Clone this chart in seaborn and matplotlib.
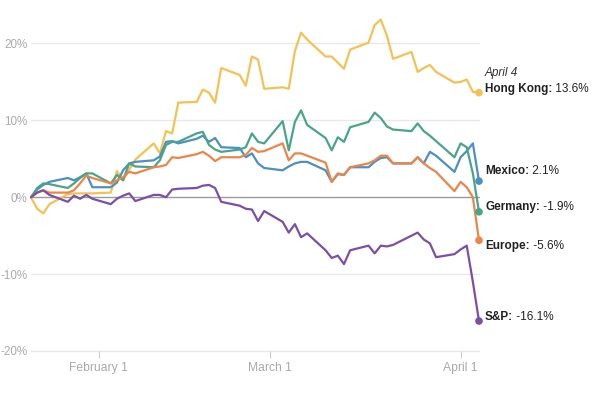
import matplotlib
matplotlib.use("Agg")
import matplotlib.pyplot as plt
import numpy as np
import pandas as pd
import seaborn as sns

sns.set_style("white")
plt.rcParams["font.family"] = ["Liberation Sans", "DejaVu Sans"]

# trading days since Jan 21, 2025
DATES = pd.bdate_range("2025-01-21", "2025-04-04")

HONG_KONG = [0, -1.5, -2.1, -0.9, 0.4, 0.5, 0.5, 0.5, 0.5,
             0.6, 3.4, 2.2, 3.6, 4.9,
             7.0, 5.7, 8.6, 8.3, 12.3,
             12.4, 14.0, 13.6, 12.3, 16.8,
             15.9, 14.5, 18.3, 17.9, 14.1,
             14.3, 14.1, 19.0, 21.4, 20.5,
             18.3, 18.3, 17.5, 16.7, 19.2,
             20.1, 22.4, 23.1, 21.0, 18.0,
             18.9, 16.3, 16.8, 17.2, 16.3,
             14.9, 15.0, 15.3, 13.7, 13.6]
MEXICO = [0, 1.0, 1.6, 2.0, 2.5, 2.2, 2.6, 3.1, 1.3,
          1.3, 1.9, 3.5, 4.4, 4.6,
          4.8, 5.3, 7.2, 7.3, 7.0,
          7.6, 8.0, 7.2, 7.7, 6.5,
          6.4, 5.2, 5.7, 4.4, 3.8,
          3.5, 4.0, 4.4, 4.6, 4.6,
          3.5, 2.0, 3.0, 2.9, 3.9,
          3.9, 4.6, 5.1, 5.2, 4.4,
          4.4, 5.2, 4.4, 5.9, 5.4,
          3.3, 5.2, 6.0, 7.0, 2.1]
GERMANY = [0, 1.2, 1.8, 1.7, 1.2, 1.8, 2.5, 3.1, 3.1,
           1.8, 2.9, 2.2, 4.4, 4.0,
           3.9, 4.8, 6.8, 7.2, 7.2,
           8.3, 8.5, 6.8, 6.2, 5.9,
           6.2, 6.5, 8.3, 7.2, 7.0,
           9.9, 6.1, 9.8, 11.3, 9.4,
           7.7, 6.1, 7.8, 7.2, 9.1,
           9.8, 11.0, 10.3, 9.2, 8.8,
           8.6, 9.6, 8.6, 8.0, 7.3,
           5.2, 7.0, 6.5, 3.1, -1.9]
EUROPE = [0, 0.6, 0.9, 0.6, 0.6, 0.9, 1.8, 2.8, 2.5,
          1.8, 2.2, 2.6, 3.3, 3.1,
          3.9, 4.0, 4.2, 5.2, 5.1,
          5.6, 5.9, 5.4, 4.7, 5.2,
          5.2, 5.5, 6.4, 5.9, 6.0,
          7.0, 4.8, 5.7, 5.7, 5.4,
          4.5, 2.0, 3.1, 2.9, 3.9,
          4.4, 4.8, 5.4, 5.4, 4.4,
          4.4, 5.2, 4.4, 3.8, 3.3,
          0.8, 2.0, 1.3, 0.0, -5.6]
SP500 = [0, 0.6, 0.9, 0.3, -0.6, 0.2, -0.2, 0.3, -0.2,
         -0.9, -0.2, 0.2, 0.5, -0.5,
         0.3, 0.3, 0.0, 1.0, 1.1,
         1.2, 1.5, 1.6, 1.2, -0.6,
         -1.1, -1.5, -1.6, -3.1, -1.8,
         -3.2, -4.6, -3.5, -5.2, -4.7,
         -6.9, -7.9, -7.6, -8.7, -6.9,
         -6.3, -7.3, -6.3, -6.4, -6.2,
         -5.0, -4.6, -5.5, -6.0, -7.8,
         -7.4, -6.8, -6.3, -11.0, -16.1]

SERIES = {"Hong Kong": HONG_KONG, "Mexico": MEXICO, "Germany": GERMANY,
          "Europe": EUROPE, "S&P": SP500}
COLORS = {"Hong Kong": "#f4c252", "Mexico": "#4b8fc3", "Germany": "#48a58a",
          "Europe": "#ec8548", "S&P": "#7a4fa6"}
# label offset from the end dot, in pixels
LABEL_DY = {"Hong Kong": 4, "Mexico": 10, "Germany": 5, "Europe": -6, "S&P": 4}

df = pd.concat([pd.DataFrame({"date": DATES, "change": vals, "index": name})
                for name, vals in SERIES.items()], ignore_index=True)

fig = plt.figure(figsize=(6.03, 3.94), dpi=100)
ax = fig.add_axes([31 / 603, 1 - 351 / 394, 448 / 603, 346 / 394])

for y in [-20, -10, 10, 20]:
    ax.axhline(y, color="#e8e8e8", lw=1, zorder=0)
ax.axhline(0, color="#9a9a9a", lw=1, zorder=1)

sns.lineplot(data=df, x="date", y="change", hue="index", palette=COLORS,
             linewidth=1.6, legend=False, ax=ax, zorder=3)
for line in ax.lines:
    line.set_solid_joinstyle("round")
    line.set_clip_on(False)

last = df[df["date"] == DATES[-1]]
sns.scatterplot(data=last, x="date", y="change", hue="index", palette=COLORS,
                s=30, edgecolor="none", legend=False, ax=ax, zorder=4,
                clip_on=False)

end = DATES[-1]
for name, vals in SERIES.items():
    t = ax.annotate(f"{name}:", xy=(end, vals[-1]), xytext=(6, LABEL_DY[name]),
                    textcoords="offset pixels", va="center", ha="left",
                    fontsize=8.5, fontweight="bold", color="#222222")
    ax.annotate(f" {vals[-1]:.1f}%", xy=(1, 0.5), xycoords=t, va="center",
                ha="left", fontsize=8.5, color="#222222")
ax.annotate("April 4", xy=(end, HONG_KONG[-1]), xytext=(6, 20),
            textcoords="offset pixels", va="center", ha="left",
            fontsize=8.5, style="italic", color="#333333")

ax.set_xlim(DATES[0], DATES[-1])
ax.set_ylim(-20, 25)
ax.set_yticks([-20, -10, 0, 10, 20])
ax.set_yticklabels(["-20%", "-10%", "0%", "10%", "20%"])
ticks = pd.to_datetime(["2025-02-01", "2025-03-01", "2025-04-01"])
ax.set_xticks(ticks)
ax.set_xticklabels(["February 1", "March 1", "April 1"])
ax.tick_params(axis="y", length=0, pad=2.5, labelsize=8.4, labelcolor="#aaaaaa")
ax.tick_params(axis="x", length=5, width=0.8, color="#cccccc", pad=3,
               labelsize=8.7, labelcolor="#aaaaaa", bottom=True)
ax.set_xlabel("")
ax.set_ylabel("")
sns.despine(ax=ax, left=True, bottom=True)

fig.savefig("out.png", dpi=100)
